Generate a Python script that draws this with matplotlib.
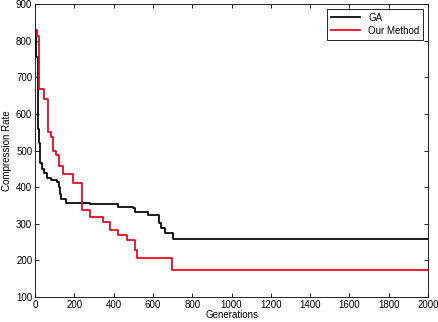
import numpy as np
import matplotlib
matplotlib.use('Agg')
import matplotlib.pyplot as plt

plt.rcParams['font.family'] = ['Liberation Sans', 'DejaVu Sans']

# GA curve (step starts)
ga_gen = [0, 5, 17, 20, 24, 28, 35, 45, 60, 80, 110, 120, 127, 132, 160, 280, 420,
          500, 510, 575, 630, 640, 660, 700, 2000]
ga_rate = [830, 755, 560, 520, 490, 466, 450, 438, 425, 420, 415, 400, 380, 368, 358,
           355, 347, 343, 333, 324, 302, 288, 275, 258, 258]

# Our method curve (step starts)
our_gen = [0, 12, 20, 45, 65, 80, 93, 108, 120, 140, 195, 238, 280, 348, 382, 423,
           466, 509, 520, 697, 2000]
our_rate = [830, 812, 668, 640, 550, 538, 500, 488, 458, 435, 411, 337, 319, 306, 283,
            269, 256, 228, 207, 173, 173]

fig = plt.figure(figsize=(4.39, 3.22), dpi=100)
ax = fig.add_axes([0.0797, 0.0776, 0.8953, 0.91])

ax.plot(ga_gen, ga_rate, color='black', lw=1.25, drawstyle='steps-post', label='GA')
ax.plot(our_gen, our_rate, color='#e8001a', lw=1.25, drawstyle='steps-post', label='Our Method')

ax.set_xlim(0, 2000)
ax.set_ylim(100, 900)
ax.set_xticks(np.arange(0, 2001, 200))
ax.set_yticks(np.arange(100, 901, 100))
ax.tick_params(direction='in', top=True, right=True, labelsize=7, length=3, width=0.6, pad=2)
for s in ax.spines.values():
    s.set_linewidth(0.6)

ax.set_xlabel('Generations', fontsize=7, labelpad=0)
ax.set_ylabel('Compression Rate', fontsize=7, labelpad=3)

leg = ax.legend(loc='upper right', fontsize=7, fancybox=False, framealpha=1,
                edgecolor='black', handlelength=3, borderpad=0.4, labelspacing=0.3)
leg.get_frame().set_linewidth(0.6)

fig.savefig('out.png', dpi=100)
